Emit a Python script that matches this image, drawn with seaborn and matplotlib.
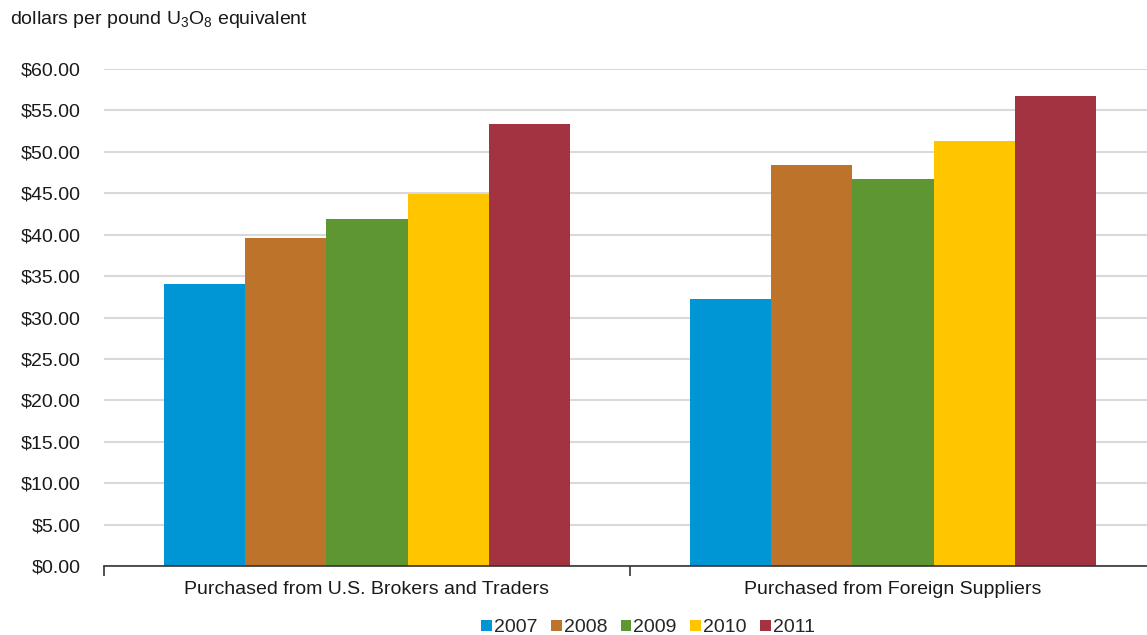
import matplotlib
matplotlib.use('Agg')
import matplotlib.pyplot as plt
import seaborn as sns
import pandas as pd

categories = ['Purchased from U.S. Brokers and Traders', 'Purchased from Foreign Suppliers']
years = ['2007', '2008', '2009', '2010', '2011']
us_brokers = [34.06, 39.65, 41.87, 44.89, 53.34]
foreign_suppliers = [32.28, 48.47, 46.70, 51.29, 56.76]
colors = ['#0096D6', '#BD732A', '#5E9732', '#FFC600', '#A33340']
y_ticks = list(range(0, 61, 5))

# long-form table for seaborn
rows = []
for cat, vals in zip(categories, [us_brokers, foreign_suppliers]):
    for yr, v in zip(years, vals):
        rows.append({'category': cat, 'year': yr, 'price': v})
df = pd.DataFrame(rows)

sns.set_style('white')
plt.rcParams['font.family'] = ['Liberation Sans', 'DejaVu Sans']
plt.rcParams['mathtext.fontset'] = 'custom'
plt.rcParams['mathtext.rm'] = 'Liberation Sans'

fig = plt.figure(figsize=(11.47, 6.35), dpi=100, facecolor='white')
ax = fig.add_axes([104 / 1147, 1 - 566 / 635, (1156 - 104) / 1147, (566 - 69) / 635])

sns.barplot(data=df, x='category', y='price', hue='year', order=categories,
            hue_order=years, palette=colors, width=0.772, gap=0,
            saturation=1, ax=ax, legend=True, errorbar=None, linewidth=0)

ax.set_xlim(-0.5, 1.5)
ax.set_ylim(0, 60)
ax.set_yticks(y_ticks)
ax.set_yticklabels([f'${t:.2f}' for t in y_ticks], fontsize=14, color='#1a1a1a')
ax.yaxis.grid(True, color='#d9d9d9', linewidth=1.5)
ax.set_axisbelow(True)
ax.tick_params(axis='y', length=0, pad=17)

# category boundary ticks on the x axis
ax.set_xticks([-0.5, 0.5, 1.5], minor=True)
ax.tick_params(axis='x', which='minor', bottom=True, length=7, width=1.2,
               color='#333333', direction='out')
ax.tick_params(axis='x', which='major', length=0, pad=11, labelsize=14, labelcolor='#1a1a1a')
ax.set_xlabel('')
ax.set_ylabel('')

for side in ['left', 'right', 'top']:
    ax.spines[side].set_visible(False)
ax.spines['bottom'].set_color('#333333')
ax.spines['bottom'].set_linewidth(1.2)

fig.text(10 / 1147, 1 - 20 / 635, r'dollars per pound U$\mathregular{_3}$O$\mathregular{_8}$ equivalent',
         fontsize=14, color='#1a1a1a', va='center', ha='left')

handles, labels = ax.get_legend_handles_labels()
ax.get_legend().remove()
fig.legend(handles, labels, loc='center', bbox_to_anchor=(648 / 1147, 1 - 628 / 635),
           ncol=5, frameon=False, fontsize=14, handlelength=0.55, handleheight=0.55,
           handletextpad=0.1, columnspacing=0.7, borderaxespad=0)

fig.savefig('out.png', dpi=100, facecolor='white')
